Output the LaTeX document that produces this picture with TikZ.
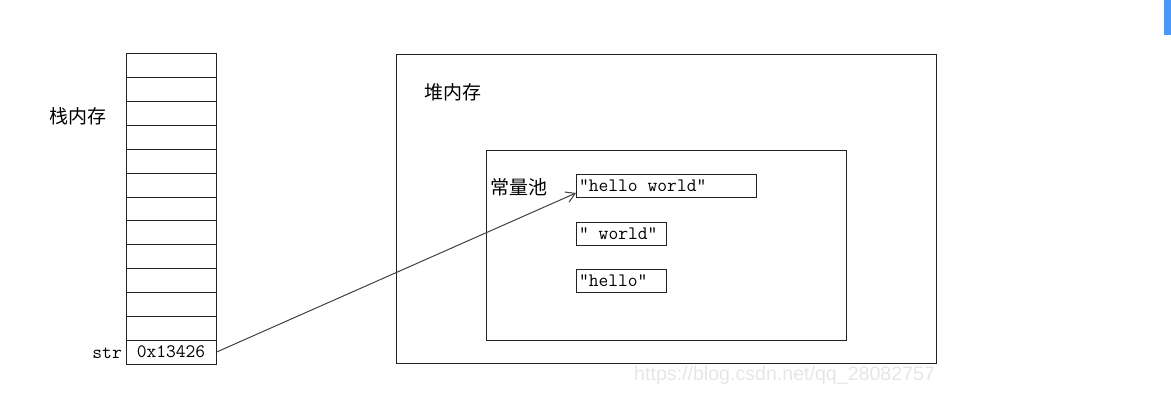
\documentclass[tikz,border=0pt]{standalone}
\usepackage{fontspec}
\setsansfont{Liberation Sans}
\newfontfamily\cjk{Noto Sans CJK SC}
\usetikzlibrary{arrows.meta}
\definecolor{edge}{HTML}{222222}
\definecolor{wm}{HTML}{E6E6E6}
\definecolor{barblue}{HTML}{4A98F7}
\newcommand{\tsp}{\hspace{0.525em}}
\tikzset{
  monotext/.style={font=\ttfamily\fontsize{19}{19}\selectfont},
  cell/.style={draw=edge, line width=1pt, minimum width=90pt, minimum height=23.85pt, inner sep=0pt, monotext},
  frame/.style={draw=edge, line width=1pt, inner sep=0pt},
  strbox/.style={draw=edge, line width=1pt, minimum height=23pt, inner xsep=2.5pt, inner ysep=0pt, anchor=north west, align=left, monotext},
  cjklabel/.style={font=\cjk\fontsize{19}{19}\selectfont, inner sep=0pt},
  ptr/.style={draw=black!75, line width=1pt, -{Straight Barb[length=9pt,width=11pt]}}
}
\begin{document}
\begin{tikzpicture}[x=1pt,y=-1pt]
\useasboundingbox (0,0) rectangle (1171,412);
% stack
\foreach \i in {0,...,11} {
  \node[cell] (c\i) at (171,{54+23.846*(\i+0.5)}) {};
}
\node[cell] (strcell) at (171,{54+23.846*12.5}) {0x13426};
\node[cjklabel] (stacklbl) at (78,116) {栈内存};
\node[monotext, inner sep=0pt, anchor=east] (strlbl) at (122,353) {str};
% heap
\node[frame, minimum width=540pt, minimum height=309pt, anchor=north west] (heap) at (396,54) {};
\node[cjklabel] (heaplbl) at (453,92) {堆内存};
% constant pool
\node[frame, minimum width=360pt, minimum height=190pt, anchor=north west] (pool) at (486,150) {};
\node[cjklabel] (poollbl) at (519,187) {常量池};
\node[strbox, text width=175pt] (hw) at (576,174) {"hello\tsp world"};
\node[strbox, text width=85pt] (w) at (576,222) {"\tsp world"};
\node[strbox, text width=85pt] (h) at (576,269) {"hello"};
% pointer
\draw[ptr] (strcell.east) -- ([yshift=-7pt]hw.west);
% watermark and screen artifact
\node[font=\sffamily\fontsize{19.6}{19.6}\selectfont, text=wm, inner sep=0pt, anchor=west] (wmark) at (634,375) {https://blog.csdn.net/qq\_28082757};
\fill[barblue] (1164,0) rectangle (1171,35);
\end{tikzpicture}
\end{document}
